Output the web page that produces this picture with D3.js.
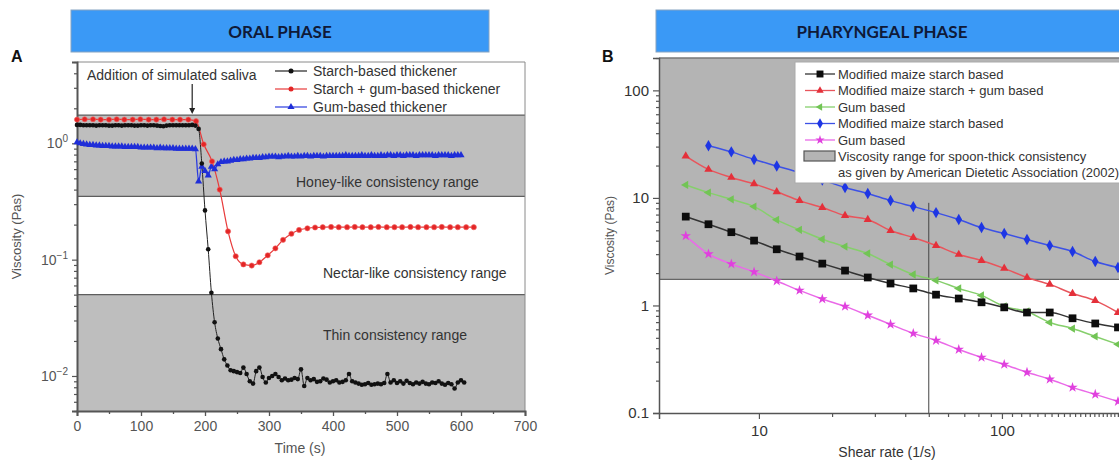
<!DOCTYPE html>
<html>
<head>
<meta charset="utf-8">
<script src="https://cdn.jsdelivr.net/npm/d3@7"></script>
<style>
  body { margin: 0; background: #fff; }
  svg { display: block; font-family: "Liberation Sans", Arial, sans-serif; }
</style>
</head>
<body>
<svg id="chart" width="1119" height="462"></svg>
<script>
// ---------- Panel A: viscosity over time (Pa·s) ----------
const sampleTime = [0,5,10,15,20,25,30,35,40,45,50,55,60,65,70,75,80,85,90,95,100,105,110,115,120,125,130,135,140,145,150,155,160,165,170,175,180,185,190,195,200,205,210,215,220,225,230,235,240,245,250,255,260,265,270,275,280,285,290,295,300,305,310,315,320,325,330,335,340,345,350,355,360,365,370,375,380,385,390,395,400,405,410,415,420,425,430,435,440,445,450,455,460,465,470,475,480,485,490,495,500,505,510,515,520,525,530,535,540,545,550,555,560,565,570,575,580,585,590,595,600,605];

const starchVisc = [1.44,1.44,1.43,1.43,1.43,1.43,1.42,1.43,1.43,1.43,
  1.42,1.42,1.43,1.43,1.42,1.43,1.43,1.43,1.42,1.42,
  1.43,1.43,1.42,1.43,1.43,1.42,1.41,1.40,1.42,1.43,
  1.43,1.43,1.43,1.43,1.43,1.43,
  1.44,1.42,1.33,0.67,0.265,0.123,0.052,0.029,0.021,0.017,0.0139,0.0123,0.0112,
  0.0110,0.0108,0.0106,0.0118,0.0104,0.0090,0.0086,0.0110,0.0118,0.0098,
  0.0088,0.0096,0.0100,0.0104,0.0098,0.0092,0.0095,0.0092,0.0093,0.0096,
  0.0094,0.0114,
  0.0082,0.0096,0.0092,0.0094,0.0089,0.0090,0.0095,0.0093,0.0088,0.0090,
  0.0092,0.0088,0.0089,0.0092,0.0104,0.0090,0.0088,0.0086,0.0084,0.0085,
  0.0087,0.0084,0.0085,0.0086,0.0085,0.0087,0.0104,0.0088,0.0092,0.0087,
  0.0090,0.0086,0.0091,0.0087,0.0085,0.0088,0.0086,0.0089,0.0086,0.0085,
  0.0088,0.0087,0.0090,0.0086,0.0084,0.0087,0.0085,0.0078,0.0088,0.0092,0.0088];

const mixTime = [0,12,25,37,50,62,74,87,99,112,124,136,149,161,174,186,198,211,223,236,248,260,273,285,298,310,322,335,347,360,372,384,397,409,422,434,446,459,471,484,496,508,521,533,546,558,570,583,595,608,620];
const mixVisc = [1.60,1.61,1.61,1.60,1.60,1.61,1.60,1.60,1.61,1.60,
  1.60,1.61,1.60,1.60,1.60,1.55,0.98,0.70,0.40,0.175,
  0.107,0.091,0.089,0.095,0.109,0.125,0.148,0.167,0.180,0.186,
  0.189,0.190,0.191,0.190,0.190,0.191,0.190,0.190,0.191,0.190,
  0.190,0.190,0.191,0.190,0.190,0.190,0.191,0.190,0.190,0.190,0.190];

const gumVisc = [1.02,1.00,0.99,0.98,0.97,0.97,0.96,0.96,0.95,0.95,
  0.95,0.94,0.94,0.94,0.94,0.93,0.93,0.93,0.93,0.93,
  0.92,0.92,0.92,0.92,0.92,0.91,0.92,0.91,0.91,0.91,
  0.91,0.90,0.90,0.90,0.90,0.90,0.90,0.89,
  0.47,0.63,0.58,0.53,0.63,0.60,0.66,0.69,0.70,0.70,
  0.71,0.72,0.72,0.73,0.73,0.74,0.74,0.75,0.75,0.75,
  0.76,0.76,0.77,
  0.77,0.77,0.76,0.77,0.77,0.78,0.77,0.77,0.78,0.77,
  0.78,0.78,0.77,0.78,0.78,0.78,0.77,0.78,0.78,0.78,
  0.78,0.78,0.78,0.79,0.78,0.78,0.78,0.78,0.79,0.78,
  0.78,0.79,0.78,0.78,0.79,0.78,0.79,0.79,0.78,0.79,
  0.79,0.78,0.79,0.79,0.79,0.78,0.79,0.79,0.79,0.79,
  0.79,0.78,0.79,0.79,0.79,0.79,0.78,0.79,0.79,0.79];

const timeTicks = [0,100,200,300,400,500,600,700];
const timeMinorTicks = [50,150,250,350,450,550,650];
const viscPowersA = [-2,-1,0];
const honeyRange = [0.35, 1.75];
const thinRange = [0.005, 0.05];
const salivaTime = 180;
const legendNamesA = ["Starch-based thickener","Starch + gum-based thickener","Gum-based thickener"];
const bandLabelsA = ["Honey-like consistency range","Nectar-like consistency range","Thin consistency range"];

// ---------- Panel B: viscosity vs shear rate ----------
const shearRate = [5,6.2,7.7,9.55,11.84,14.69,18.23,22.61,28.05,34.8,43.17,53.55,66.43,82.41,102.2,126.8,157.3,195.2,242.1,300.3];
const maizeStarch1 = [6.70,5.69,4.80,4.01,3.33,2.85,2.45,2.11,1.82,1.60,1.44,1.26,1.16,1.07,0.96,0.86,0.86,0.76,0.68,0.625];
const maizeStarchGum = [24.5,18.4,15.5,13.5,11.4,9.44,8.13,6.85,6.29,4.97,4.28,3.61,2.98,2.62,2.21,1.82,1.57,1.29,1.11,0.86];
const gum1 = [13.2,11.2,9.70,8.30,6.25,5.05,4.13,3.53,3.04,2.40,1.94,1.71,1.44,1.24,0.98,0.88,0.695,0.61,0.515,0.435];
const maizeStarch2 = [null,30.6,26.8,22.8,19.8,17.2,14.7,12.5,11.0,9.44,8.30,7.30,6.29,5.30,4.66,4.10,3.61,3.17,2.56,2.25];
const gum2 = [4.44,3.01,2.43,2.05,1.69,1.38,1.15,0.98,0.81,0.667,0.55,0.473,0.39,0.329,0.283,0.239,0.206,0.173,0.149,0.128];
const spoonThickMin = 1.75;
const referenceShear = 50;
const referenceLineTop = 9;
const shearLabelTicks = [10, 100];
const viscLabelTicksB = [0.1, 1, 10, 100];
const legendNamesB = ["Modified maize starch based","Modified maize starch + gum based","Gum based","Modified maize starch based","Gum based"];
const bandLegendB = ["Viscosity range for spoon-thick consistency","as given by American Dietetic Association (2002)"];

// ---------------------------------------------------------
const svg = d3.select("#chart");
const INK = "#333";
const AXIS = "#555";

function header(x0, x1, cx, text) {
  svg.append("rect").attr("x", x0).attr("y", 10).attr("width", x1 - x0).attr("height", 42)
    .attr("fill", "#3a99f6").attr("stroke", "#86a3c2").attr("stroke-width", 1);
  svg.append("text").attr("x", cx).attr("y", 38).attr("text-anchor", "middle")
    .attr("font-family", "Lato, 'Open Sans', sans-serif").attr("font-weight", 700)
    .attr("font-size", 17).attr("fill", "#0f1a38").text(text);
}
header(71, 489, 280, "ORAL PHASE");
header(656, 1130, 882, "PHARYNGEAL PHASE");

svg.append("text").attr("x", 11).attr("y", 62).attr("font-weight", 700).attr("font-size", 16).attr("fill", "#111").text("A");
svg.append("text").attr("x", 602).attr("y", 62).attr("font-weight", 700).attr("font-size", 16).attr("fill", "#111").text("B");

// ================= Panel A =================
const xA = d3.scaleLinear().domain([0, 700]).range([77, 525]);
const yA = d3.scaleLog().domain([0.005, 5]).range([411, 62]);
const gA = svg.append("g");

[honeyRange, thinRange].forEach(r => {
  gA.append("rect").attr("x", xA(0)).attr("width", xA(700) - xA(0))
    .attr("y", yA(r[1])).attr("height", yA(r[0]) - yA(r[1])).attr("fill", "#bebebe");
});
[honeyRange[1], honeyRange[0], thinRange[1]].forEach(v => {
  gA.append("line").attr("x1", xA(0)).attr("x2", xA(700)).attr("y1", yA(v)).attr("y2", yA(v))
    .attr("stroke", "#5e5e5e").attr("stroke-width", 1.2);
});

// frame
gA.append("line").attr("x1", xA(0)).attr("x2", xA(700)).attr("y1", yA(5)).attr("y2", yA(5)).attr("stroke", "#8a8a8a");
gA.append("line").attr("x1", xA(700)).attr("x2", xA(700)).attr("y1", yA(5)).attr("y2", yA(0.005)).attr("stroke", "#8a8a8a");

// band captions
gA.append("text").attr("x", 296).attr("y", 187).attr("font-size", 14).attr("fill", INK).text(bandLabelsA[0]);
gA.append("text").attr("x", 323).attr("y", 278).attr("font-size", 14).attr("fill", INK).text(bandLabelsA[1]);
gA.append("text").attr("x", 323).attr("y", 340).attr("font-size", 14).attr("fill", INK).text(bandLabelsA[2]);

// x axis
const axA = gA.append("g").attr("transform", `translate(0,${yA(0.005)})`)
  .call(d3.axisBottom(xA).tickValues(timeTicks).tickSize(5).tickPadding(5).tickFormat(d3.format("d")));
axA.append("g").call(d3.axisBottom(xA).tickValues(timeMinorTicks).tickSize(3).tickFormat(""))
  .select(".domain").remove();
axA.selectAll(".domain").attr("stroke", AXIS).attr("stroke-width", 2);
axA.selectAll(".tick line").attr("stroke", AXIS).attr("stroke-width", 1.3);
axA.selectAll(".tick text").attr("font-size", 14).attr("fill", "#555").attr("font-family", "Liberation Sans, Arial, sans-serif");

// y axis
const majorA = viscPowersA.map(p => Math.pow(10, p));
const minorA = yA.ticks(30).filter(v => !majorA.some(m => Math.abs(m - v) / m < 1e-6));
const ayA = gA.append("g").attr("transform", `translate(${xA(0)},0)`)
  .call(d3.axisLeft(yA).tickValues(majorA).tickSize(5).tickFormat(""));
ayA.append("g").call(d3.axisLeft(yA).tickValues(minorA).tickSize(3).tickFormat("")).select(".domain").remove();
ayA.selectAll(".domain").attr("stroke", AXIS).attr("stroke-width", 2);
ayA.selectAll(".tick line").attr("stroke", AXIS).attr("stroke-width", 1.2);
viscPowersA.forEach(p => {
  const t = gA.append("text").attr("x", 68).attr("y", yA(Math.pow(10, p)) + 5)
    .attr("text-anchor", "end").attr("font-size", 14).attr("fill", "#555");
  t.append("tspan").text("10");
  t.append("tspan").attr("dy", -6).attr("font-size", 10).text(p === 0 ? "0" : "\u2212" + Math.abs(p));
});

gA.append("text").attr("transform", `translate(21,${(yA(5) + yA(0.005)) / 2}) rotate(-90)`)
  .attr("text-anchor", "middle").attr("font-size", 13).attr("fill", "#555").text("Viscosity (Pas)");
gA.append("text").attr("x", 300).attr("y", 453).attr("text-anchor", "middle")
  .attr("font-size", 14).attr("fill", "#555").text("Time (s)");

// series
const lineA = d3.line().curve(d3.curveMonotoneX).x(d => xA(d[0])).y(d => yA(d[1]));
const starchPts = starchVisc.map((v, i) => [sampleTime[i], v]);
const mixPts = mixVisc.map((v, i) => [mixTime[i], v]);
const gumPts = gumVisc.map((v, i) => [sampleTime[i], v]);

gA.append("path").datum(gumPts).attr("d", lineA).attr("fill", "none").attr("stroke", "#2b3be0").attr("stroke-width", 1.3);
gA.append("path").datum(mixPts).attr("d", lineA).attr("fill", "none").attr("stroke", "#e83a3a").attr("stroke-width", 1.2);
gA.append("path").datum(starchPts).attr("d", lineA).attr("fill", "none").attr("stroke", "#222").attr("stroke-width", 1);

const triA = d3.symbol().type(d3.symbolTriangle).size(22);
gA.selectAll(".gum").data(gumPts).join("path")
  .attr("transform", d => `translate(${xA(d[0])},${yA(d[1])})`).attr("d", triA).attr("fill", "#1f2ed8");
gA.selectAll(".mix").data(mixPts).join("circle")
  .attr("cx", d => xA(d[0])).attr("cy", d => yA(d[1])).attr("r", 2.6).attr("fill", "#e32626").attr("stroke", "#f46a6a").attr("stroke-width", 0.6);
gA.selectAll(".starch").data(starchPts).join("circle")
  .attr("cx", d => xA(d[0])).attr("cy", d => yA(d[1])).attr("r", 2.3).attr("fill", "#111");

// saliva annotation
gA.append("text").attr("x", 87).attr("y", 80).attr("font-size", 14).attr("fill", INK).text("Addition of simulated saliva");
gA.append("line").attr("x1", xA(salivaTime)).attr("x2", xA(salivaTime)).attr("y1", 84).attr("y2", yA(honeyRange[1]) - 6)
  .attr("stroke", "#222").attr("stroke-width", 1.2);
gA.append("path").attr("d", `M${xA(salivaTime) - 3},${yA(honeyRange[1]) - 7} L${xA(salivaTime) + 3},${yA(honeyRange[1]) - 7} L${xA(salivaTime)},${yA(honeyRange[1]) - 1} Z`).attr("fill", "#222");

// legend A
const legA = gA.append("g");
const colorsA = ["#222", "#e83a3a", "#2b3be0"];
legendNamesA.forEach((name, i) => {
  const y = 71 + i * 18;
  legA.append("line").attr("x1", 275).attr("x2", 307).attr("y1", y).attr("y2", y).attr("stroke", colorsA[i]).attr("stroke-width", 1.2);
  if (i === 2) legA.append("path").attr("transform", `translate(291,${y})`).attr("d", triA).attr("fill", "#1f2ed8");
  else legA.append("circle").attr("cx", 291).attr("cy", y).attr("r", 2.5).attr("fill", i === 0 ? "#111" : "#e32626");
  legA.append("text").attr("x", 313).attr("y", y + 5).attr("font-size", 14).attr("fill", INK).text(name);
});

// ================= Panel B =================
const xB = d3.scaleLog().domain([3.88, 336.5]).range([659, 1130]);
const yB = d3.scaleLog().domain([0.1, 200]).range([413, 58]);
const gB = svg.append("g");

gB.append("rect").attr("x", xB.range()[0]).attr("width", xB.range()[1] - xB.range()[0])
  .attr("y", yB(200)).attr("height", yB(spoonThickMin) - yB(200)).attr("fill", "#b4b4b4");
gB.append("line").attr("x1", xB.range()[0]).attr("x2", xB.range()[1]).attr("y1", yB(spoonThickMin)).attr("y2", yB(spoonThickMin))
  .attr("stroke", "#666").attr("stroke-width", 1.2);
gB.append("line").attr("x1", xB.range()[0]).attr("x2", xB.range()[1]).attr("y1", yB(200)).attr("y2", yB(200))
  .attr("stroke", "#777").attr("stroke-width", 1.5);

// reference shear rate
gB.append("line").attr("x1", xB(referenceShear)).attr("x2", xB(referenceShear))
  .attr("y1", yB(referenceLineTop)).attr("y2", yB(0.1)).attr("stroke", "#444").attr("stroke-width", 1);

// axes
const minorX = xB.ticks(40).filter(v => !shearLabelTicks.includes(v));
const axB = gB.append("g").attr("transform", `translate(0,${yB(0.1)})`)
  .call(d3.axisBottom(xB).tickValues(shearLabelTicks).tickSize(6).tickPadding(6).tickFormat(d3.format("d")));
axB.append("g").call(d3.axisBottom(xB).tickValues(minorX).tickSize(4).tickFormat("")).select(".domain").remove();
axB.selectAll(".domain").attr("stroke", AXIS).attr("stroke-width", 1.5);
axB.selectAll(".tick line").attr("stroke", AXIS).attr("stroke-width", 1.2);
axB.selectAll(".tick text").attr("font-size", 15).attr("fill", INK).attr("font-family", "Liberation Sans, Arial, sans-serif");

const minorY = yB.ticks(40).filter(v => !viscLabelTicksB.some(m => Math.abs(m - v) / m < 1e-6));
const ayB = gB.append("g").attr("transform", `translate(${xB.range()[0]},0)`)
  .call(d3.axisLeft(yB).tickValues(viscLabelTicksB).tickSize(6).tickPadding(4).tickFormat(d => d < 1 ? d3.format(".1f")(d) : d3.format("d")(d)));
ayB.append("g").call(d3.axisLeft(yB).tickValues(minorY).tickSize(3).tickFormat("")).select(".domain").remove();
ayB.selectAll(".domain").attr("stroke", AXIS).attr("stroke-width", 1.5);
ayB.selectAll(".tick line").attr("stroke", AXIS).attr("stroke-width", 1.2);
ayB.selectAll(".tick text").attr("font-size", 15).attr("fill", INK).attr("font-family", "Liberation Sans, Arial, sans-serif");

gB.append("text").attr("transform", `translate(614,${(yB(200) + yB(0.1)) / 2}) rotate(-90)`)
  .attr("text-anchor", "middle").attr("font-size", 12).attr("fill", "#555").text("Viscosity (Pas)");
gB.append("text").attr("x", 887).attr("y", 457).attr("text-anchor", "middle")
  .attr("font-size", 14).attr("fill", INK).text("Shear rate (1/s)");

// series
const seriesB = [
  { values: gum2, color: "#e040de", line: "#ea6ae8", symbol: d3.symbolStar, size: 34, rot: 0 },
  { values: gum1, color: "#72c455", line: "#86cf6c", symbol: d3.symbolTriangle, size: 30, rot: -90 },
  { values: maizeStarch1, color: "#0d0d0d", line: "#333", symbol: d3.symbolSquare, size: 60, rot: 0 },
  { values: maizeStarchGum, color: "#e4303a", line: "#e8555c", symbol: d3.symbolTriangle, size: 30, rot: 0 },
  { values: maizeStarch2, color: "#1e36e4", line: "#3c51e6", symbol: d3.symbolDiamond, size: 38, rot: 0 }
];
const lineB = d3.line().defined(d => d[1] != null).curve(d3.curveMonotoneX).x(d => xB(d[0])).y(d => yB(d[1]));
seriesB.forEach(s => {
  const pts = s.values.map((v, i) => [shearRate[i], v]);
  gB.append("path").datum(pts).attr("d", lineB).attr("fill", "none").attr("stroke", s.line).attr("stroke-width", 1.5);
  gB.selectAll(null).data(pts.filter(d => d[1] != null)).join("path")
    .attr("transform", d => `translate(${xB(d[0])},${yB(d[1])}) rotate(${s.rot})`)
    .attr("d", d3.symbol().type(s.symbol).size(s.size)).attr("fill", s.color);
});

// legend B
const legB = gB.append("g");
legB.append("rect").attr("x", 795).attr("y", 62).attr("width", 340).attr("height", 121)
  .attr("fill", "#fff").attr("stroke", "#aaa").attr("stroke-width", 1);
const legendOrder = [2, 3, 1, 4, 0];
legendNamesB.forEach((name, i) => {
  const s = seriesB[legendOrder[i]];
  const y = 74 + i * 16.5;
  legB.append("line").attr("x1", 805).attr("x2", 835).attr("y1", y).attr("y2", y).attr("stroke", s.line).attr("stroke-width", 1.3);
  legB.append("path").attr("transform", `translate(820,${y}) rotate(${s.rot})`)
    .attr("d", d3.symbol().type(s.symbol).size(s.size * 0.8)).attr("fill", s.color);
  legB.append("text").attr("x", 838).attr("y", y + 4.5).attr("font-size", 13).attr("fill", INK).text(name);
});
legB.append("rect").attr("x", 804).attr("y", 151).attr("width", 31).attr("height", 10)
  .attr("fill", "#b4b4b4").attr("stroke", "#555").attr("stroke-width", 1.2);
bandLegendB.forEach((t, i) => {
  legB.append("text").attr("x", 838).attr("y", 160.5 + i * 16.5).attr("font-size", 13).attr("fill", INK).text(t);
});
</script>
</body>
</html>
